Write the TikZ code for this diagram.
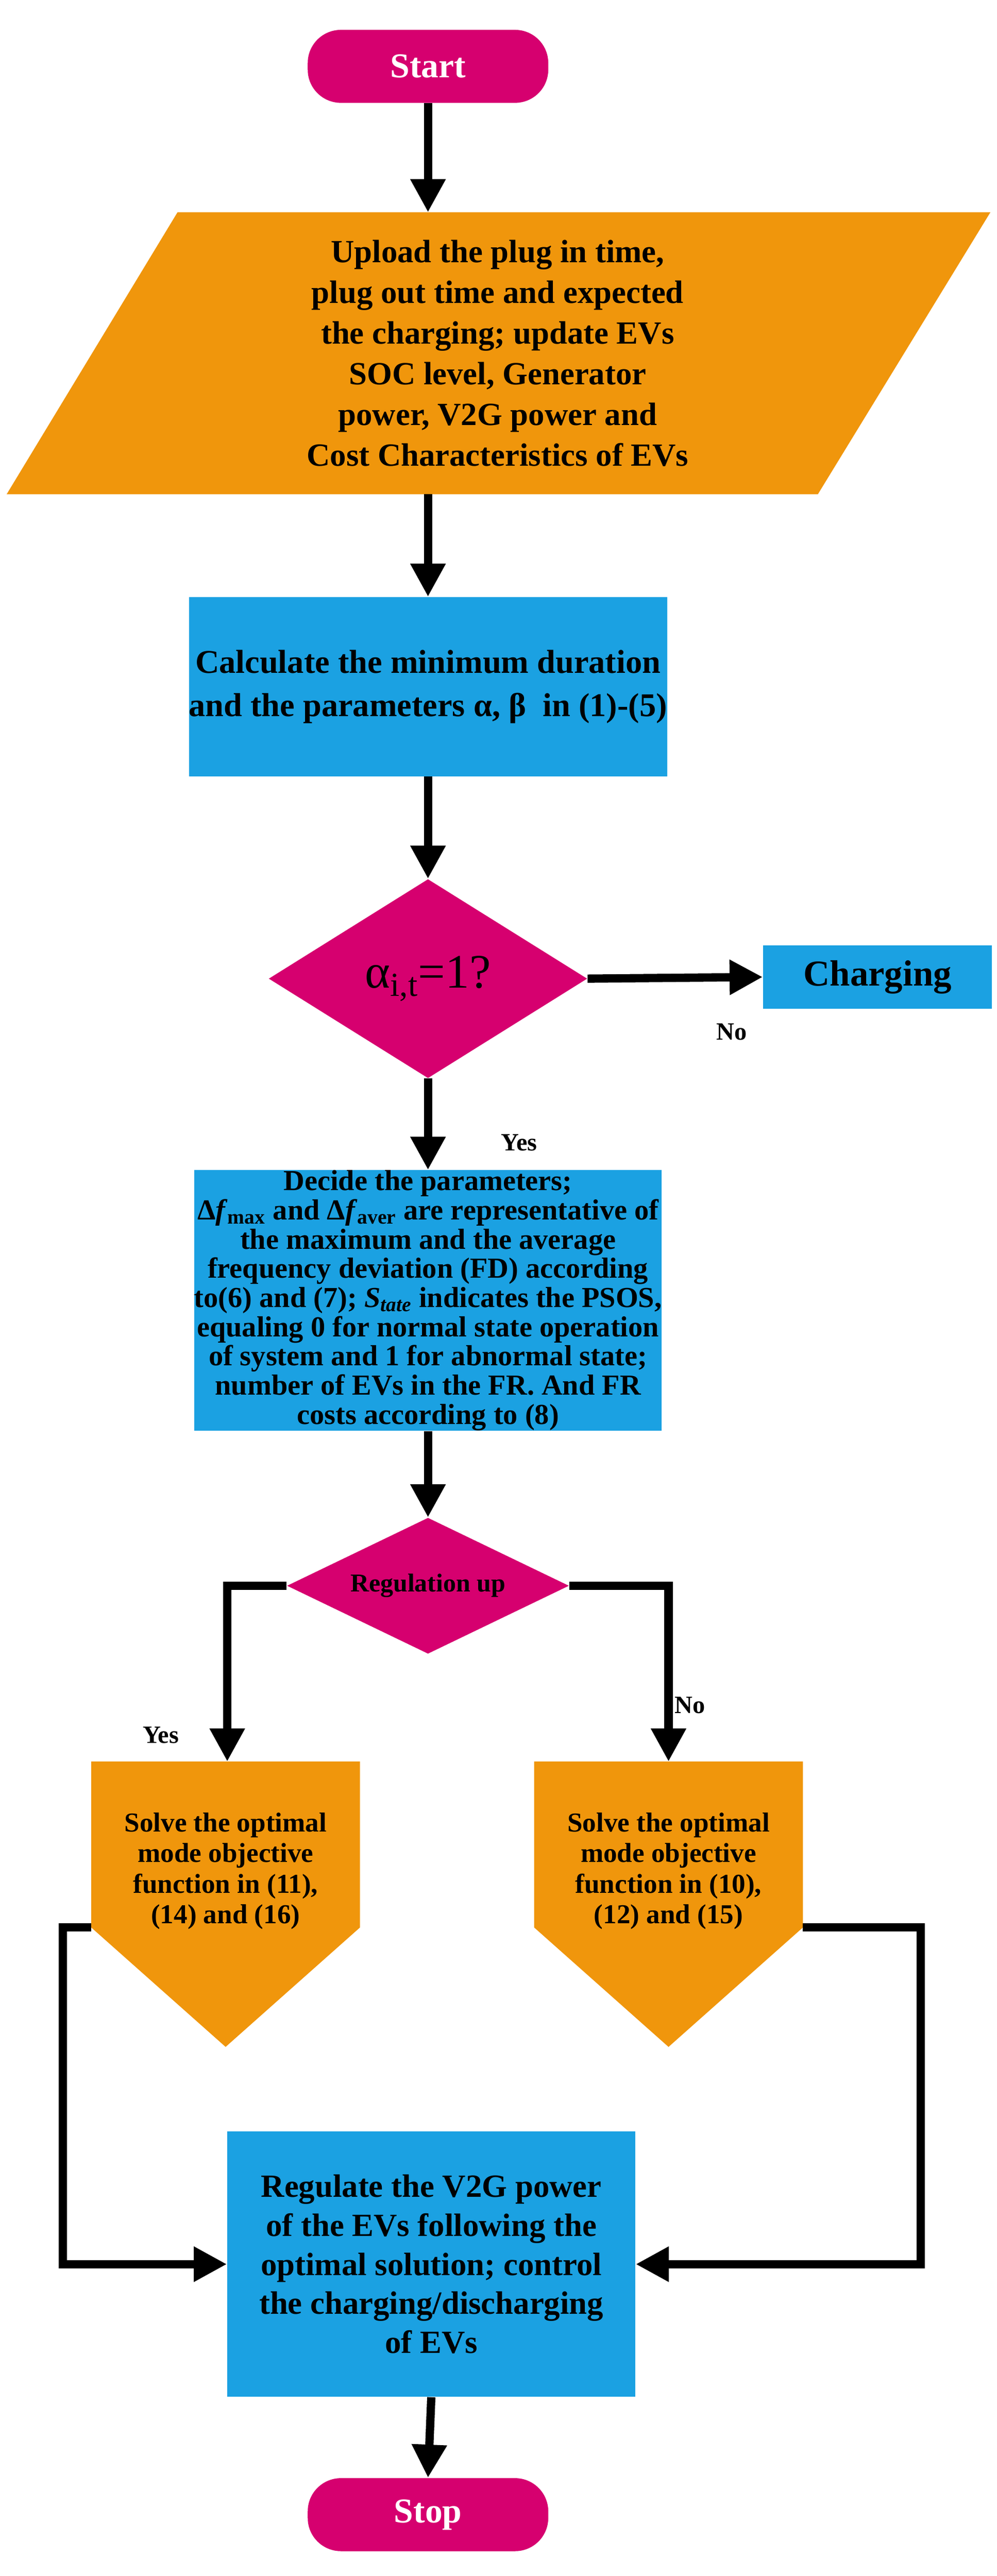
\documentclass[tikz,border=0pt]{standalone}
\usepackage{fontspec}
\setmainfont{Liberation Serif}
\usetikzlibrary{shapes.geometric,arrows.meta}
\definecolor{cor}{HTML}{F0960C}
\definecolor{cbl}{HTML}{1BA1E2}
\definecolor{cmg}{HTML}{D6006F}
\begin{document}
\begin{tikzpicture}[x=1pt,y=-1pt,
  arr/.style={line width=5pt,-{Triangle[length=20pt,width=20pt]}},
  term/.style={fill=cmg,rounded corners=20pt,minimum width=145pt,minimum height=44pt,text=white,font=\bfseries\fontsize{21}{24}\selectfont},
  box/.style={fill=cbl,inner sep=0pt,align=center},
  dia/.style={diamond,fill=cmg,inner sep=0pt},
  lab/.style={font=\bfseries\fontsize{15}{17}\selectfont}]
\useasboundingbox (0,0) rectangle (601,1553);
% start
\node[term] (start) at (258,40) {Start};
% parallelogram
\fill[cor] (107,128) -- (597,128) -- (493,298) -- (4,298) -- cycle;
\node[align=center,font=\bfseries\fontsize{19.5}{24.5}\selectfont] (inp) at (300,213)
 {Upload the plug in time,\\plug out time and expected\\the charging; update EVs\\SOC level, Generator\\power, V2G power and\\Cost Characteristics of EVs};
\coordinate (inpT) at (258,128); \coordinate (inpB) at (258,298);
% calc box
\node[box,minimum width=252pt,minimum height=108pt,font=\bfseries\fontsize{20}{26}\selectfont] (calc) at (258,414)
 {Calculate the minimum duration\\and the parameters α, β\ \ in (1)-(5)};
% diamond 1
\node[dia,minimum width=192pt,minimum height=120pt] (d1) at (258,590) {};
\node[font=\fontsize{29}{31}\selectfont] at (258,590) {α\textsubscript{i,t}=1?};
\node[fill=cbl,minimum width=138pt,minimum height=38pt,inner sep=0pt,font=\bfseries\fontsize{22}{24}\selectfont] (chg) at (529,589) {Charging};
\node[lab] at (441,622) {No};
\node[lab] at (313,689) {Yes};
% big box
\node[box,minimum width=252pt,minimum height=157pt,font=\bfseries\fontsize{17.5}{17.6}\selectfont] (dec) at (258,784)
 {Decide the parameters;\\
  Δ\textit{f}\textsubscript{max} and Δ\textit{f}\textsubscript{aver} are representative of\\
  the maximum and the average\\
  frequency deviation (FD) according\\
  to(6) and (7); \textit{S\textsubscript{tate}} indicates the PSOS,\\
  equaling 0 for normal state operation\\
  of system and 1 for abnormal state;\\
  number of EVs in the FR. And FR\\
  costs according to (8)};
% diamond 2
\node[dia,minimum width=170pt,minimum height=82pt] (d2) at (258,956) {};
\node[font=\bfseries\fontsize{15.5}{17}\selectfont] at (258,956) {Regulation up};
% pentagons
\fill[cor] (55,1062) -- (217,1062) -- (217,1162) -- (136,1234) -- (55,1162) -- cycle;
\fill[cor] (322,1062) -- (484,1062) -- (484,1162) -- (403,1234) -- (322,1162) -- cycle;
\node[align=center,font=\bfseries\fontsize{16.5}{18.5}\selectfont] (p1) at (136,1128)
 {Solve the optimal\\mode objective\\function in (11),\\(14) and (16)};
\node[align=center,font=\bfseries\fontsize{16.5}{18.5}\selectfont] (p2) at (403,1128)
 {Solve the optimal\\mode objective\\function in (10),\\(12) and (15)};
\node[lab] at (97,1046) {Yes};
\node[lab] at (416,1028) {No};
\coordinate (p1T) at (137,1062); \coordinate (p2T) at (403,1062);
\coordinate (p1L) at (55,1162); \coordinate (p2R) at (484,1162);
% final box
\node[box,minimum width=246pt,minimum height=160pt,font=\bfseries\fontsize{19.5}{23.5}\selectfont] (reg) at (260,1365)
 {Regulate the V2G power\\of the EVs following the\\optimal solution; control\\the charging/discharging\\of EVs};
\node[term] (stop) at (258,1516) {Stop};
% connectors
\draw[arr] (start.south) -- (inpT);
\draw[arr] (inpB) -- (calc.north);
\draw[arr] (calc.south) -- (d1.north);
\draw[arr] (d1.east) -- (chg.west);
\draw[arr] (d1.south) -- (dec.north);
\draw[arr] (dec.south) -- (d2.north);
\draw[arr] (d2.west) -| (p1T);
\draw[arr] (d2.east) -| (p2T);
\draw[arr] (p1L) -- ++(-17,0) |- (reg.west);
\draw[arr] (p2R) -- ++(71,0) |- (reg.east);
\draw[arr] (reg.south) -- (stop.north);
\end{tikzpicture}
\end{document}
